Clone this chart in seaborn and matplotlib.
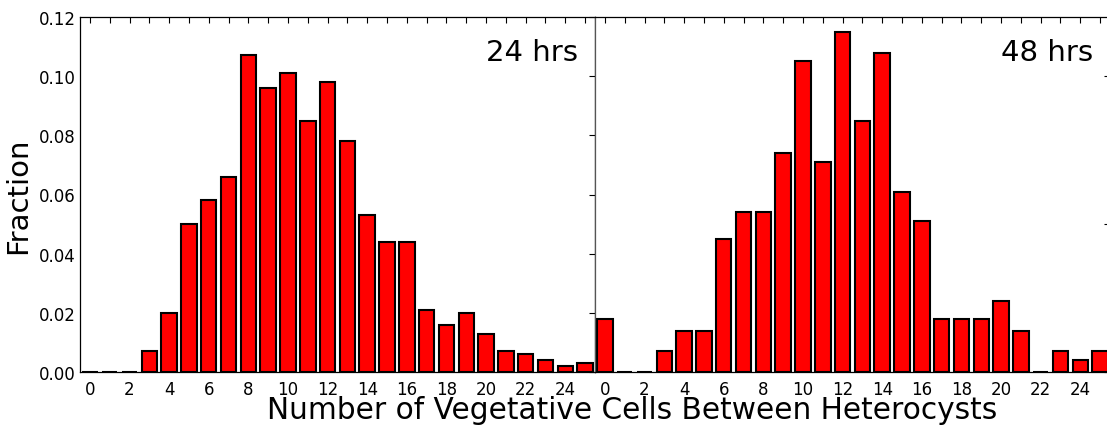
import numpy as np
import pandas as pd
import matplotlib
matplotlib.use("Agg")
import matplotlib.pyplot as plt
import seaborn as sns
from matplotlib.ticker import FixedLocator

# ---- data ----
cells = list(range(26))
frac_24 = [0.000, 0.000, 0.000, 0.007, 0.020, 0.050, 0.058, 0.066, 0.107, 0.096,
           0.101, 0.085, 0.098, 0.078, 0.053, 0.044, 0.044, 0.021, 0.016, 0.020,
           0.013, 0.007, 0.006, 0.004, 0.002, 0.003]
frac_48 = [0.018, 0.000, 0.000, 0.007, 0.014, 0.014, 0.045, 0.054, 0.054, 0.074,
           0.105, 0.071, 0.115, 0.085, 0.108, 0.061, 0.051, 0.018, 0.018, 0.018,
           0.024, 0.014, 0.000, 0.007, 0.004, 0.007]
panel_labels = ["24 hrs", "48 hrs"]
xtick_values = list(range(0, 26))
xtick_labels = [str(v) if v % 2 == 0 and v <= 24 else "" for v in xtick_values]
ytick_left = [0.00, 0.02, 0.04, 0.06, 0.08, 0.10, 0.12]
ytick_right = [0.00, 0.05, 0.10]

sns.set_style("white")
plt.rcParams["font.family"] = ["DejaVu Sans"]
plt.rcParams.update({"text.color": "black", "axes.labelcolor": "black",
                     "xtick.color": "black", "ytick.color": "black"})

W, H = 1107, 427
fig = plt.figure(figsize=(W / 100, H / 100), dpi=100)

def px_axes(x0, y0, x1, y1):
    return [x0 / W, 1 - y1 / H, (x1 - x0) / W, (y1 - y0) / H]

ax1 = fig.add_axes(px_axes(80, 18, 595, 373))
ax2 = fig.add_axes(px_axes(595, 18, 1110, 373))

for ax, vals, lab, yt in [(ax1, frac_24, panel_labels[0], ytick_left),
                          (ax2, frac_48, panel_labels[1], ytick_right)]:
    df = pd.DataFrame({"cells": cells, "frac": vals})
    sns.barplot(data=df, x="cells", y="frac", ax=ax, color="#ff0000",
                saturation=1, edgecolor="black", linewidth=1.5, width=0.78,
                errorbar=None)
    ax.set_xlim(-0.5, 25.5)
    ax.set_ylim(0, 0.12)
    ax.xaxis.set_major_locator(FixedLocator(xtick_values))
    ax.set_xticklabels(xtick_labels)
    ax.yaxis.set_major_locator(FixedLocator(yt))
    ax.tick_params(axis="both", which="both", direction="in", length=4, width=0.8,
                   top=True, right=True, labelsize=12, color="black",
                   labelcolor="black")
    ax.tick_params(axis="x", pad=6)
    ax.tick_params(axis="y", pad=3)
    ax.set_xlabel("")
    ax.set_ylabel("")
    for s in ax.spines.values():
        s.set_visible(True)
        s.set_color("black")
        s.set_linewidth(0.9)
    ax.text(0.967, 0.94, lab, transform=ax.transAxes, ha="right", va="top",
            fontsize=21, color="black")

ax1.set_yticklabels([f"{v:.2f}" for v in ytick_left])
ax2.set_yticklabels([])
ax1.set_ylabel("Fraction", fontsize=21, labelpad=5, color="black")
ax2.spines["left"].set_color("#555555")

fig.text(632 / W, 1 - 411 / H, "Number of Vegetative Cells Between Heterocysts",
         ha="center", va="center", fontsize=21.3, color="black")

fig.savefig("out.png", dpi=100)
